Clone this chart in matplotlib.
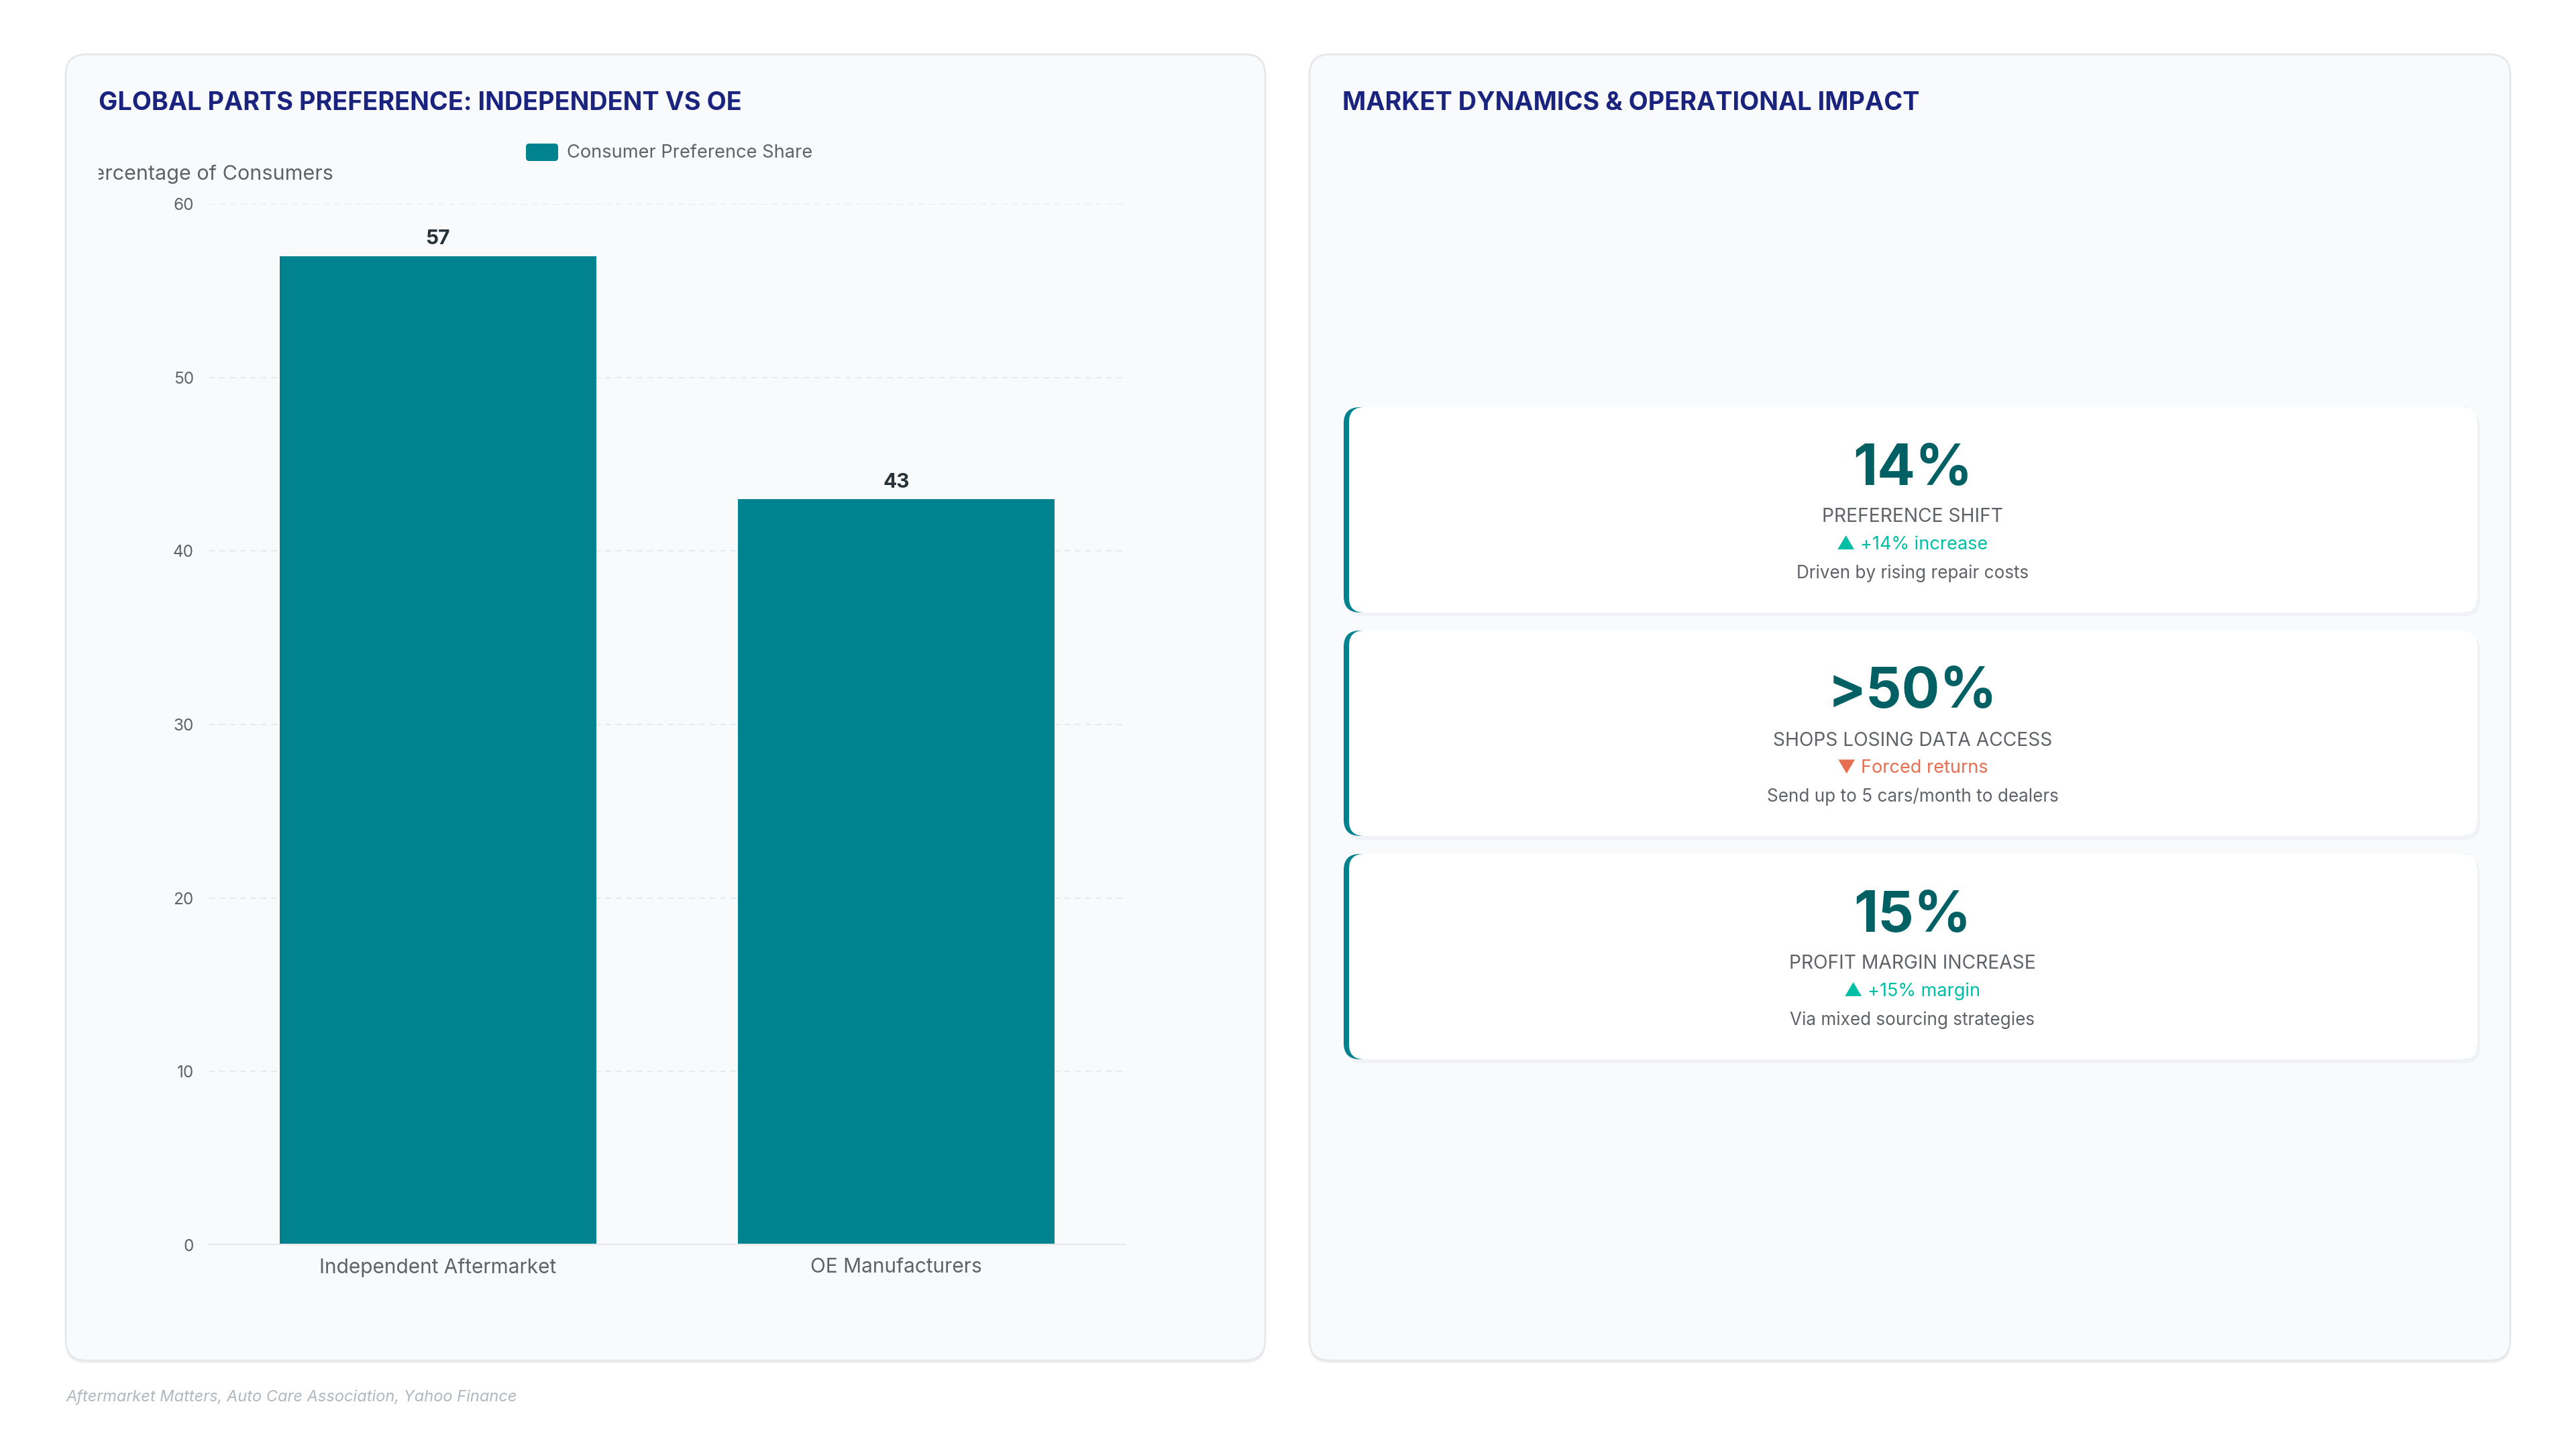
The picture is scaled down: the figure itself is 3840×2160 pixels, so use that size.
import matplotlib
matplotlib.use("Agg")
import matplotlib.pyplot as plt
from matplotlib.patches import FancyBboxPatch
from matplotlib.transforms import Bbox

plt.rcParams['font.family'] = ['Inter', 'DejaVu Sans']

# data
categories = ['Independent Aftermarket', 'OE Manufacturers']
share = [57, 43]
y_ticks = [0, 10, 20, 30, 40, 50, 60]

card_values = ['14%', '>50%', '15%']
card_labels = ['PREFERENCE SHIFT', 'SHOPS LOSING DATA ACCESS', 'PROFIT MARGIN INCREASE']
card_changes = ['▲ +14% increase', '▼ Forced returns', '▲ +15% margin']
card_up = [True, False, True]
card_notes = ['Driven by rising repair costs', 'Send up to 5 cars/month to dealers',
              'Via mixed sourcing strategies']

TEAL = '#00838F'
DARK_TEAL = '#006064'
NAVY = '#1A237E'
GRAY = '#5F6368'
UP = '#00BFA5'
DOWN = '#E76F51'

W, H = 3840, 2160
fig = plt.figure(figsize=(W / 100, H / 100), dpi=100, facecolor='white')

# background canvas in pixel coordinates (top-left origin)
bg = fig.add_axes([0, 0, 1, 1])
bg.set_xlim(0, W)
bg.set_ylim(H, 0)
bg.axis('off')


def panel(x0, x1, y0, y1):
    bg.add_patch(FancyBboxPatch((x0, y0 + 4), x1 - x0, y1 - y0, boxstyle='round,pad=0,rounding_size=30',
                                fc='#EEF0F3', ec='none', zorder=1))
    bg.add_patch(FancyBboxPatch((x0, y0), x1 - x0, y1 - y0, boxstyle='round,pad=0,rounding_size=30',
                                fc='#F8FAFC', ec='#E5E7EB', lw=2, zorder=2))


panel(98, 1886, 81, 2028)
panel(1952, 3742, 81, 2028)

bg.text(147, 154, 'GLOBAL PARTS PREFERENCE: INDEPENDENT VS OE', color=NAVY, fontsize=27.2,
        fontweight='bold', ha='left', va='center', zorder=5)
bg.text(2001, 154, 'MARKET DYNAMICS & OPERATIONAL IMPACT', color=NAVY, fontsize=27.2,
        fontweight='bold', ha='left', va='center', zorder=5)

# legend
bg.add_patch(FancyBboxPatch((784, 214), 48, 26, boxstyle='round,pad=0,rounding_size=5',
                            fc=TEAL, ec='none', zorder=5))
bg.text(845, 228, 'Consumer Preference Share', color=GRAY, fontsize=19.6, ha='left', va='center', zorder=5)

# y-axis title, cut at the panel padding like the original
t = bg.text(497, 260, 'Percentage of Consumers', color=GRAY, fontsize=22, ha='right', va='center', zorder=5)
t.set_clip_box(Bbox.from_extents(147, H - 330, 1000, H - 190))
t.set_clip_on(True)

# bar chart
ax = fig.add_axes([311 / W, 1 - 1856 / H, (1678 - 311) / W, (1856 - 304) / H])
ax.set_facecolor('none')
ax.set_zorder(3)
x = list(range(len(categories)))
bars = ax.bar(x, share, width=0.69, color=TEAL, zorder=3)
ax.set_xlim(-0.5, len(categories) - 0.5)
ax.set_ylim(0, 60)
ax.set_yticks(y_ticks)
ax.set_yticklabels([str(v) for v in y_ticks])
ax.set_xticks(x)
ax.set_xticklabels(categories)
ax.tick_params(axis='y', length=0, pad=16, labelsize=17.5, labelcolor=GRAY)
ax.tick_params(axis='x', length=0, pad=14, labelsize=21.5, labelcolor=GRAY)
for s in ax.spines.values():
    s.set_visible(False)
for v in y_ticks[1:]:
    ax.axhline(v, color='#E8EAED', lw=1.6, ls=(0, (4, 3)), zorder=1)
ax.axhline(0, color='#E5E7EB', lw=3, zorder=4)
for xi, v in zip(x, share):
    ax.annotate(str(v), (xi, v), xytext=(0, 8), textcoords='offset points', ha='center', va='bottom',
                fontsize=21.5, fontweight='bold', color='#263238')

# metric cards
card_tops = [607, 940, 1273]
card_h = 306
cx0, cx1 = 2003, 3693
cmid = (cx0 + cx1) / 2 + 3
for top, val, lab, chg, up, note in zip(card_tops, card_values, card_labels, card_changes, card_up, card_notes):
    bg.add_patch(FancyBboxPatch((cx0 + 4, top + 6), cx1 - cx0, card_h, boxstyle='round,pad=0,rounding_size=24',
                                fc='#F0F2F5', ec='none', zorder=3))
    bg.add_patch(FancyBboxPatch((cx0, top), cx1 - cx0, card_h, boxstyle='round,pad=0,rounding_size=24',
                                fc=TEAL, ec='none', zorder=4))
    bg.add_patch(FancyBboxPatch((cx0 + 8, top), cx1 - cx0 - 8, card_h, boxstyle='round,pad=0,rounding_size=22',
                                fc='white', ec='none', zorder=5))
    bg.text(cmid, top + 93, val, color=DARK_TEAL, fontsize=60.5, fontweight='bold', ha='center', va='center', zorder=6)
    bg.text(cmid, top + 164, lab, color=GRAY, fontsize=20.3, ha='center', va='center', zorder=6)
    bg.text(cmid, top + 205, chg, color=UP if up else DOWN, fontsize=19.5, ha='center', va='center', zorder=6)
    bg.text(cmid, top + 248, note, color=GRAY, fontsize=18.8, ha='center', va='center', zorder=6)

bg.text(98, 2083, 'Aftermarket Matters, Auto Care Association, Yahoo Finance', color='#B0B8BF',
        fontsize=17, style='italic', ha='left', va='center', zorder=5)

fig.savefig('out.png', dpi=100, facecolor='white')
